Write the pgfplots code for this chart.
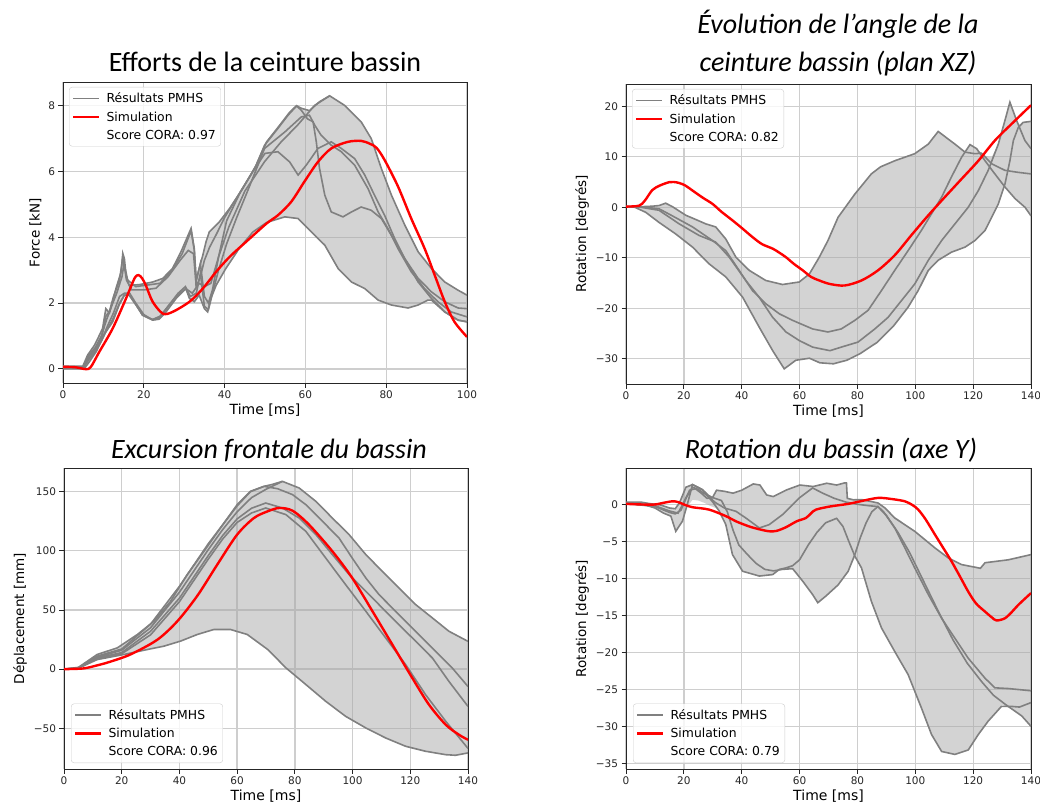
\documentclass[border=0pt]{standalone}
\usepackage{pgfplots}
\pgfplotsset{compat=1.18}
\usepackage{fontspec}
\setmainfont{DejaVu Sans}
\newfontfamily\titlefont{Carlito}
\definecolor{pmhs}{HTML}{808080}
\definecolor{band}{HTML}{A7A7A7}
\definecolor{sim}{HTML}{FF0000}
\definecolor{gridc}{HTML}{CECECE}
\pgfplotsset{
  cora/.style={
    scale only axis, anchor=south west,
    axis line style={black!85, line width=0.9pt},
    tick pos=left, tick align=outside,
    major tick length=4.5pt,
    tick style={black!85, line width=0.9pt},
    grid=major, major grid style={gridc, line width=1.3pt},
    ticklabel style={font=\fontsize{10.5}{12}\selectfont, text=black!85},
    xlabel style={font=\fontsize{14}{16}\selectfont, yshift=2pt},
    ylabel style={font=\fontsize{13.5}{16}\selectfont},
    /pgf/number format/assume math mode=true,
    xlabel={Time [ms]},
    legend image code/.code={\draw[##1] (0pt,0pt) -- (26pt,0pt);},
    legend cell align=left,
    legend style={draw=black!20, rounded corners=3pt, fill=white, fill opacity=0.8, text opacity=1,
      font=\fontsize{12.4}{14}\selectfont, inner xsep=3pt, inner ysep=3.5pt, row sep=3.5pt,
      /tikz/every odd column/.append style={column sep=4pt}},
  },
  pm/.style={pmhs, line width=1.6pt, forget plot},
  bandst/.style={fill=band, fill opacity=0.5, draw=none, forget plot},
  simu/.style={sim, line width=2.4pt, smooth, forget plot},
}
\newcommand{\corlegend}[1]{%
  \addlegendimage{pmhs, line width=1.6pt}\addlegendentry{Résultats PMHS}
  \addlegendimage{sim, line width=2.4pt}\addlegendentry{Simulation}
  \addlegendimage{empty legend}\addlegendentry{Score CORA: #1}}
\begin{document}
\begin{tikzpicture}
\useasboundingbox (0,0) rectangle (1040pt,807pt);
% ---------------- Plot 1
\begin{axis}[cora, at={(63pt,424pt)}, width=404pt, height=301pt,
  xmin=0, xmax=100, ymin=-0.43, ymax=8.72,
  xtick={0,20,40,60,80,100}, xticklabels={0,20,40,60,80,100},
  ytick={0,2,4,6,8}, yticklabels={0,2,4,6,8},
  ylabel={Force [kN]},
  legend style={at={(0,1)}, anchor=north west, xshift=6pt, yshift=-5pt}]
\addplot[bandst] coordinates {(0,0.08)(4.9,0.08)(6.1,0.42)(7.8,0.72)(9,1.02)(9.8,1.23)(10.6,1.83)(11.5,1.7)(12.3,2.04)(13.1,2.44)(14.4,2.95)(14.8,3.51)(15.2,3.35)(15.6,2.85)(16.4,2.54)(18.9,2.56)(22.2,2.64)(24.7,2.75)(27.1,3.05)(29.2,3.56)(31.7,4.27)(32.5,3.66)(32.9,2.64)(33.7,3.05)(34.6,3.45)(35.4,3.86)(36.2,4.16)(38.7,4.47)(41.2,4.87)(44.5,5.48)(47.8,6.19)(50.4,6.90)(53.6,7.40)(56.1,7.80)(57.8,8.0)(59,7.92)(61,7.85)(63.5,8.12)(66,8.30)(69.7,8.01)(73.8,7.51)(76.3,7.0)(78.8,6.09)(81.3,5.28)(84.6,4.37)(87.9,3.56)(91.2,3.05)(94.5,2.64)(97.8,2.39)(100,2.24)
(100,1.43)(97.8,1.48)(94.5,1.73)(91.2,2.09)(90.3,2.09)(87.9,1.94)(85.4,1.85)(81.3,1.94)(78,2.09)(74.7,2.44)(71.4,2.64)(68.1,3.05)(64.8,3.76)(61.5,4.16)(58.2,4.57)(54.9,4.62)(50.4,4.45)(47,4.16)(43.6,3.66)(40.3,3.05)(37.9,2.54)(36.6,2.14)(35.8,1.73)(35,1.83)(33.7,2.24)(32.5,2.04)(31.3,2.14)(30.4,2.44)(28,2.14)(25.5,1.73)(23.8,1.51)(22.2,1.48)(19.7,1.63)(18.1,1.94)(16.4,2.24)(15.2,2.24)(13.9,1.94)(12.3,1.43)(10.6,1.12)(9.4,0.82)(8.2,0.52)(6.5,0.21)(5.2,0.0)(0,0.0)};
\addplot[pm] coordinates {(0,0.08)(4.9,0.08)(6.1,0.42)(7.8,0.72)(9,1.02)(9.8,1.23)(10.6,1.83)(11.5,1.7)(12.3,2.04)(13.1,2.44)(14.4,2.95)(14.8,3.51)(15.2,3.35)(15.6,2.85)(16.4,2.54)(18.9,2.56)(22.2,2.64)(24.7,2.75)(27.1,3.05)(29.2,3.56)(31.7,4.27)(32.5,3.66)(32.9,2.64)(33.7,3.05)(34.6,3.45)(35.4,3.86)(36.2,4.16)(38.7,4.47)(41.2,4.87)(44.5,5.48)(47.8,6.19)(50.4,6.90)(53.6,7.40)(56.1,7.80)(57.8,8.0)(59,7.92)(61,7.85)(63.5,8.12)(66,8.30)(69.7,8.01)(73.8,7.51)(76.3,7.0)(78.8,6.09)(81.3,5.28)(84.6,4.37)(87.9,3.56)(91.2,3.05)(94.5,2.64)(97.8,2.39)(100,2.24)};
\addplot[pm] coordinates {(0,0.0)(5.2,0.0)(6.5,0.21)(8.2,0.52)(9.4,0.82)(10.6,1.12)(12.3,1.43)(13.9,1.94)(15.2,2.24)(16.4,2.24)(18.1,1.94)(19.7,1.63)(22.2,1.48)(23.8,1.51)(25.5,1.73)(28,2.14)(30.4,2.44)(31.3,2.14)(32.5,2.04)(33.7,2.24)(35,1.83)(35.8,1.73)(36.6,2.14)(37.9,2.54)(40.3,3.05)(43.6,3.66)(47,4.16)(50.4,4.45)(54.9,4.62)(58.2,4.57)(61.5,4.16)(64.8,3.76)(68.1,3.05)(71.4,2.64)(74.7,2.44)(78,2.09)(81.3,1.94)(85.4,1.85)(87.9,1.94)(90.3,2.09)(91.2,2.09)(94.5,1.73)(97.8,1.48)(100,1.43)};
\addplot[pm] coordinates {(0,0.05)(5,0.05)(6.3,0.4)(8,0.65)(9.5,1.0)(10.8,1.5)(12,1.9)(13.3,2.3)(14.6,2.8)(15.1,3.2)(15.7,2.7)(17,2.4)(20,2.4)(23,2.45)(26,2.8)(29,3.3)(31,3.6)(32.3,3.5)(33,2.5)(34,2.8)(35,3.3)(36.3,3.7)(38,4.1)(40,4.6)(44,5.4)(47,6.0)(50,6.55)(53.2,6.6)(56.1,6.29)(58.2,5.89)(60.2,6.19)(63.1,6.70)(66.4,6.9)(68.9,6.70)(72.2,6.39)(74.7,5.89)(77.1,5.28)(79.6,4.67)(82.1,3.96)(84.6,3.35)(87.9,2.75)(91.2,2.34)(94.5,2.04)(97.8,1.85)(100,1.83)};
\addplot[pm] coordinates {(0,0.04)(5,0.04)(6.2,0.35)(8,0.6)(9.5,0.9)(10.6,1.6)(11.5,1.75)(12.5,2.2)(14,2.7)(14.8,3.4)(15.3,3.1)(16,2.7)(18,2.5)(21,2.55)(24,2.6)(27,3.0)(29.5,3.5)(31.7,4.2)(32.5,3.6)(33,2.7)(34,3.2)(35,2.2)(36,2.0)(37,2.4)(38.5,3.4)(40.5,4.5)(44,5.4)(47.5,6.1)(49.9,6.80)(53.2,7.31)(55.7,7.71)(57.8,7.99)(59,7.86)(60.5,7.6)(61.9,7.51)(62.7,6.90)(63.5,6.09)(64.8,5.28)(66.4,4.77)(69.3,4.62)(71.4,4.77)(73.8,4.92)(76.3,4.82)(78.8,4.57)(81.3,4.06)(84.6,3.35)(87.9,2.64)(91.2,2.14)(94.5,1.73)(97.8,1.48)(100,1.43)};
\addplot[pm] coordinates {(0,0.02)(5,0.02)(6,0.25)(8,0.55)(9.5,0.85)(11,1.3)(12.5,1.7)(14,2.2)(15.2,2.3)(16.5,2.3)(18,2.0)(20,1.65)(22,1.5)(24,1.55)(26,1.9)(28.5,2.3)(30.3,2.5)(31.5,2.2)(33,2.3)(34,2.9)(35,1.9)(36,1.8)(37,2.3)(38.5,3.0)(40.5,3.8)(43,4.6)(46,5.5)(49.9,6.70)(54.9,7.2)(59,7.66)(61,7.71)(62.3,7.41)(63.9,7.10)(66.4,6.80)(68.9,6.60)(72.2,6.19)(75.5,5.48)(78,4.77)(80.4,4.27)(82.9,3.66)(86.2,2.95)(89.5,2.44)(92.8,2.04)(96.1,1.73)(100,1.58)};
\addplot[pm] coordinates {(0,0.03)(5,0.03)(6.5,0.3)(8.2,0.55)(10,1.0)(12.3,1.5)(14,2.0)(15.2,2.24)(16.4,2.24)(18.1,1.94)(19.7,1.63)(22.2,1.5)(24,1.6)(26,1.9)(28,2.2)(30.4,2.44)(32,2.3)(33.7,2.6)(35,2.5)(36.6,2.6)(38.5,3.4)(41,4.3)(45,5.4)(49.9,6.3)(54,6.9)(58,7.4)(62.3,8.01)(66,8.30)};
\addplot[simu] coordinates {(0,0.06)(3,0.05)(5.7,-0.01)(6.9,0.06)(9,0.52)(12.3,1.23)(15.6,2.14)(17.7,2.75)(18.7,2.85)(19.6,2.75)(20.5,2.54)(22.2,2.04)(24.7,1.68)(27.1,1.73)(31.3,2.04)(34.6,2.44)(37.9,2.95)(41.2,3.40)(45.3,3.86)(50.4,4.42)(53.2,4.67)(56.5,5.08)(59.8,5.70)(63.1,6.29)(66.4,6.70)(70.5,6.90)(73.8,6.93)(76,6.84)(77.6,6.72)(79.6,6.35)(82.9,5.55)(86.2,4.57)(89.5,3.66)(92,2.85)(94.5,2.04)(96.9,1.43)(100,0.97)};
\corlegend{0.97}
\end{axis}
% ---------------- Plot 2
\begin{axis}[cora, at={(626pt,423pt)}, width=405pt, height=300pt,
  xmin=0, xmax=140, ymin=-35, ymax=24.4,
  xtick={0,20,40,60,80,100,120,140}, xticklabels={0,20,40,60,80,100,120,140},
  ytick={-30,-20,-10,0,10,20}, yticklabels={−30,−20,−10,0,10,20},
  ylabel={Rotation [degrés]},
  legend style={at={(0,1)}, anchor=north west, xshift=6pt, yshift=-5pt}]
\addplot[bandst] coordinates {(0,0.13)(5,0.1)(9,0.2)(11.4,0.33)(13.7,0.8)(16,0.13)(20.7,-1.6)(24,-2.4)(27.6,-3.3)(31,-3.9)(34.5,-6.3)(38,-9.9)(42.6,-12.5)(48.3,-14.5)(54.1,-15.3)(59.9,-14.8)(63.4,-13.2)(66.8,-9.9)(69.8,-6.6)(73.3,-2.0)(79.1,2.6)(84.8,6.6)(88,8.0)(92.9,9.2)(99.8,10.6)(104.5,12.5)(107.9,15.0)(113.7,12.5)(117.2,10.9)(118.9,12.4)(121.2,11.6)(122.9,10.7)(124.5,10.1)(126.4,9.9)(128.7,12.5)(131,17.2)(132.7,20.8)(135,17.2)(136,16.4)(137.3,16.8)(140,17.0)
(140,-1.7)(137.9,0.0)(134.5,1.7)(130.8,4.2)(128.7,0.66)(126.4,-2.0)(124.1,-4.6)(120.6,-6.6)(117.2,-7.9)(112.5,-8.9)(107.9,-10.5)(104.5,-12.5)(101,-16.5)(97.5,-19.8)(92.5,-23.5)(86.7,-26.8)(80.9,-29.0)(76.3,-30.3)(71.7,-31.0)(67,-30.8)(63.4,-29.9)(58.7,-30.3)(54.7,-32.0)(50.7,-28.4)(46,-23.7)(40.3,-17.8)(34.5,-13.8)(28.7,-11.2)(23,-7.9)(17.2,-5.3)(11.4,-3.0)(6.8,-1.0)(3,0.0)(0,0.13)};
\addplot[pm] coordinates {(0,0.13)(5,0.1)(9,0.2)(11.4,0.33)(13.7,0.8)(16,0.13)(20.7,-1.6)(24,-2.4)(27.6,-3.3)(31,-3.9)(34.5,-6.3)(38,-9.9)(42.6,-12.5)(48.3,-14.5)(54.1,-15.3)(59.9,-14.8)(63.4,-13.2)(66.8,-9.9)(69.8,-6.6)(73.3,-2.0)(79.1,2.6)(84.8,6.6)(88,8.0)(92.9,9.2)(99.8,10.6)(104.5,12.5)(107.9,15.0)(113.7,12.5)(117.2,10.9)(120.6,10.6)(122.9,10.7)(126.4,8.6)(131,7.3)(135.6,6.9)(140,6.6)};
\addplot[pm] coordinates {(0,0.13)(5,0.1)(11.4,-0.3)(16,-1.7)(23,-3.9)(29.9,-6.6)(34.5,-8.6)(39.1,-12.5)(43.7,-16.5)(48.3,-19.1)(53,-21.1)(57.6,-22.4)(64.5,-24.1)(69.8,-24.7)(74.4,-24.1)(79.1,-22.4)(83.7,-20.4)(88.3,-16.5)(92.9,-12.5)(97.5,-8.6)(102.1,-4.6)(105.6,-1.3)(109.1,2.0)(112.5,6.0)(116,9.9)(118.9,12.4)(121.2,11.6)(124.1,9.2)(127.5,6.6)(131,4.0)(134.5,1.7)(137.9,0.0)(140,-1.7)};
\addplot[pm] coordinates {(0,0.13)(5,0.0)(11.4,-0.6)(18.4,-3.3)(25.3,-5.6)(31,-6.9)(35.7,-9.9)(41.4,-14.5)(46,-17.8)(50.7,-21.8)(55.3,-24.7)(59.9,-26.4)(64.5,-27.7)(70.5,-28.4)(74.4,-27.7)(80.2,-26.7)(86,-24.1)(90.6,-21.8)(95.2,-18.5)(99.8,-15.2)(104.5,-10.5)(109.1,-6.6)(113.7,-3.3)(118.3,0.0)(121.8,3.3)(125.2,7.3)(128.7,12.5)(131,17.2)(132.7,20.8)(135,17.2)(137.9,13.2)(140,11.6)};
\addplot[pm] coordinates {(0,0.13)(3,0.0)(6.8,-1.0)(11.4,-3.0)(17.2,-5.3)(23,-7.9)(28.7,-11.2)(34.5,-13.8)(40.3,-17.8)(46,-23.7)(50.7,-28.4)(54.7,-32.0)(58.7,-30.3)(63.4,-29.9)(67,-30.8)(71.7,-31.0)(76.3,-30.3)(80.9,-29.0)(86.7,-26.8)(92.5,-23.5)(97.5,-19.8)(101,-16.5)(104.5,-12.5)(107.9,-10.5)(112.5,-8.9)(117.2,-7.9)(120.6,-6.6)(124.1,-4.6)(126.4,-2.0)(128.7,0.66)(131,4.6)(132.7,9.2)(133.9,13.2)(135.6,15.8)(137.3,16.8)(140,17.0)};
\addplot[simu] coordinates {(0,0.13)(4.5,0.3)(6.5,1.3)(9.1,3.4)(11.7,4.3)(14.9,4.96)(16.5,5.0)(18.4,4.8)(20.5,4.3)(23,3.3)(26.5,1.9)(29.9,0.66)(33,-0.9)(36.8,-2.6)(40,-4.1)(43.7,-5.9)(47,-7.3)(50.7,-8.2)(53,-9.0)(55.3,-9.9)(58,-11.2)(61.1,-12.5)(64,-13.8)(66.8,-14.5)(70.5,-15.2)(75.6,-15.5)(81.4,-14.5)(87.1,-12.5)(92.9,-9.5)(98.7,-5.5)(104.5,-1.6)(110.2,2.0)(116,5.6)(121.8,9.2)(127.5,13.2)(133.3,16.5)(140,20.2)};
\corlegend{0.82}
\end{axis}
% ---------------- Plot 3
\begin{axis}[cora, at={(64pt,38pt)}, width=404pt, height=301pt,
  xmin=0, xmax=140, ymin=-84.4, ymax=170,
  xtick={0,20,40,60,80,100,120,140}, xticklabels={0,20,40,60,80,100,120,140},
  ytick={-50,0,50,100,150}, yticklabels={−50,0,50,100,150},
  ylabel={Déplacement [mm]},
  legend style={at={(0,0)}, anchor=south west, xshift=7pt, yshift=6pt}]
\addplot[bandst] coordinates {(0,0)(5,1.5)(11.5,12.4)(18.5,18)(25.4,29.2)(31.2,40.6)(36.9,57.3)(42.7,79.9)(48.5,99.6)(54.2,119.3)(60,139)(64.6,150.3)(69.3,154.5)(72,156)(75.7,158.7)(81.5,153.1)(87.3,141.8)(93,127.7)(98.8,113.7)(104.6,96.8)(110.3,82.7)(116.1,68.6)(121.9,54.5)(127.7,43.2)(133.4,32)(140,23.5)
(140,-70.8)(135.7,-72.8)(132.3,-72.3)(125.3,-69.4)(118.4,-65.2)(111.5,-58.2)(104.6,-49.7)(97.6,-39.9)(90.7,-27.2)(83.8,-13)(76.9,1.1)(70.6,16.6)(63.5,29.3)(57.7,33.5)(51.9,33.5)(46.2,29.3)(40.4,23.7)(34.6,19.4)(28.9,16.6)(20.8,12.4)(11.5,8.1)(5,0.8)(0,0)};
\addplot[pm] coordinates {(0,0)(5,1.5)(11.5,12.4)(18.5,18)(25.4,29.2)(31.2,40.6)(36.9,57.3)(42.7,79.9)(48.5,99.6)(54.2,119.3)(60,139)(64.6,150.3)(69.3,154.5)(72,156)(75.7,158.7)(81.5,153.1)(87.3,141.8)(93,127.7)(98.8,113.7)(104.6,96.8)(110.3,82.7)(116.1,68.6)(121.9,54.5)(127.7,43.2)(133.4,32)(140,23.5)};
\addplot[pm] coordinates {(0,0)(5,0.8)(11.5,8.1)(20.8,12.4)(28.9,16.6)(34.6,19.4)(40.4,23.7)(46.2,29.3)(51.9,33.5)(57.7,33.5)(63.5,29.3)(70.6,16.6)(76.9,1.1)(83.8,-13)(90.7,-27.2)(97.6,-39.9)(104.6,-49.7)(111.5,-58.2)(118.4,-65.2)(125.3,-69.4)(132.3,-72.3)(135.7,-72.8)(140,-70.8)};
\addplot[pm] coordinates {(0,0)(5,1)(11.5,10)(20,16)(30,35)(40,65)(50,101)(55,118)(60,133)(65,145)(70,152)(75.7,158.7)};
\addplot[pm] coordinates {(0,0)(5,1.2)(11.5,11)(20,17)(30,38)(40,70)(50,106)(55,122)(60,138)(64.6,150)(69.3,154.5)(74,152.5)(79.2,147.5)(83.8,139)(89.6,124.9)(95.3,110.8)(99.9,93.8)(104.6,77)(109.2,62.9)(116.1,46)(121.9,31.8)(127.7,17.7)(134.6,0.8)(140,-14.7)};
\addplot[pm] coordinates {(0,0)(5,1)(11.5,9.5)(20,14)(30,32)(40,60)(50,96)(55,113)(60,127)(65,136)(69.9,140.4)(75.7,136.2)(81.5,127.7)(87.3,113.7)(93,96.8)(98.8,79.9)(104.6,65.8)(110.3,51.7)(116.1,37.5)(121.9,23.5)(127.7,9.3)(133.4,-10.4)(140,-31.5)};
\addplot[pm] coordinates {(0,0)(5,0.9)(11.5,9)(20,13)(30,29)(40,57)(50,93)(55,110)(60,124)(65,132)(69.9,136.2)(76.9,130.6)(83.8,116.5)(90.7,93.9)(97.6,71.4)(104.6,48.9)(111.5,26.3)(118.4,3.8)(125.3,-21.6)(132.3,-44.1)(140,-67)};
\addplot[simu] coordinates {(0,0)(6.7,0.6)(11.5,3.2)(15.9,6.2)(23.1,12.5)(32.3,24.8)(39.2,40.3)(46.2,62)(53.1,88.3)(60,113.7)(65.8,127.7)(70.6,133.4)(74.6,136.2)(79.2,133.9)(84.9,122.1)(93,99.6)(99.9,77)(106.9,48.9)(113.8,20.7)(120.7,-7.5)(126.5,-30.1)(132.3,-47)(136.9,-55.5)(140,-59.7)};
\corlegend{0.96}
\end{axis}
% ---------------- Plot 4
\begin{axis}[cora, at={(626pt,38pt)}, width=405pt, height=301pt,
  xmin=0, xmax=140, ymin=-35.77, ymax=4.9,
  xtick={0,20,40,60,80,100,120,140}, xticklabels={0,20,40,60,80,100,120,140},
  ytick={-35,-30,-25,-20,-15,-10,-5,0}, yticklabels={−35,−30,−25,−20,−15,−10,−5,0},
  ylabel={Rotation [degrés]},
  legend style={at={(0,0)}, anchor=south west, xshift=7pt, yshift=6pt}]
\addplot[bandst] coordinates {(0,0.3)(5,0.3)(8,0.1)(12,-0.1)(15,-0.5)(17,-0.6)(18.5,0.2)(20.7,2.3)(23,2.66)(26.4,1.98)(28.5,1.2)(29.9,0.9)(31.3,1.9)(34,1.75)(37,1.5)(40,1.9)(44,2.75)(46.3,2.6)(48.6,1.26)(50.9,1.04)(55.5,1.94)(60.1,2.6)(64.7,2.4)(69.4,2.84)(72.8,2.6)(75.7,2.9)(76.2,2.9)(76.5,0.8)(78.6,0.6)(81.4,0.63)(87.1,0.18)(89.5,-0.5)(92.9,-1.85)(99.8,-3.65)(106.8,-5.9)(111.4,-7.25)(116,-8.15)(120.6,-8.5)(122.5,-8.65)(124.1,-7.9)(132.2,-7.5)(140,-6.8)
(140,-30.0)(136.8,-28.6)(133,-27.6)(130,-27.1)(128,-28.0)(125.2,-29.3)(121.8,-31.1)(118.3,-33.2)(113.7,-33.8)(109.1,-33.4)(105.6,-31.1)(102.1,-27.5)(97.5,-23.0)(92.9,-19.9)(88.3,-16.7)(84.8,-13.1)(81.4,-8.6)(79.1,-7.2)(76.8,-9.05)(73.3,-10.9)(69.1,-12.4)(66.3,-13.3)(64.5,-12.2)(61.1,-10.4)(57.6,-8.7)(55.3,-8.6)(53,-8.8)(50.7,-9.5)(46.1,-9.7)(40.3,-9.05)(36.8,-6.8)(34.5,-2.75)(32.2,-0.9)(31,-0.5)(29,-0.2)(27,0.2)(25,0.5)(23,0.6)(21.2,-0.3)(19.5,-2.3)(17.2,-3.65)(15.5,-1.6)(13,-1.2)(10,-0.5)(5,0.0)(0,0.0)};
\addplot[pm] coordinates {(0,0.3)(5,0.3)(8,0.1)(12,-0.1)(15,-0.5)(17,-0.6)(18.5,0.2)(20.7,2.3)(23,2.66)(26.4,1.98)(28.5,1.2)(29.9,0.9)(31.3,1.9)(34,1.75)(37,1.5)(40,1.9)(44,2.75)(46.3,2.6)(48.6,1.26)(50.9,1.04)(55.5,1.94)(60.1,2.6)(64.7,2.4)(69.4,2.84)(72.8,2.6)(75.7,2.9)(76.2,2.9)(76.5,0.8)(78.6,0.6)(81.4,0.63)(87.1,0.18)(89.5,-0.5)(92.9,-1.85)(99.8,-3.65)(106.8,-5.9)(111.4,-7.25)(116,-8.15)(120.6,-8.5)(122.5,-8.65)(124.1,-7.9)(132.2,-7.5)(140,-6.8)};
\addplot[pm] coordinates {(0,0.1)(5,0.1)(10,-0.5)(13,-1.2)(15.5,-1.6)(17.2,-3.65)(19.5,-2.3)(21.2,0)(23,2.66)(26.4,1.98)(28,1.2)(30,0.3)(32.2,-0.9)(34.5,-2.75)(36.8,-6.8)(40.3,-9.05)(46.1,-9.7)(50.7,-9.5)(53,-8.8)(55.3,-8.6)(57.6,-8.3)(60,-7.5)(63,-5.5)(66,-3.8)(69,-2.5)(72.8,-1.9)(75,-3.0)(77,-5.0)(79.1,-7.0)(81.4,-8.6)(84.8,-13.1)(88.3,-16.7)(92.9,-19.9)(97.5,-23.0)(102.1,-27.5)(105.6,-31.1)(109.1,-33.4)(113.7,-33.8)(118.3,-33.2)(121.8,-31.1)(125.2,-29.3)(129.8,-27.3)(133,-27.3)(136,-27.4)(140,-26.8)};
\addplot[pm] coordinates {(0,0.1)(10,-0.2)(15,-0.9)(18,-1.2)(20,0.3)(22,1.9)(24,2.1)(26,1.5)(28,0.8)(30,0.9)(33,0.5)(35,-1.0)(37,-3.5)(39,-5.5)(42,-6.8)(45,-8.0)(48,-8.8)(51,-9.0)(54,-8.8)(57.6,-8.7)(61.1,-10.4)(64.5,-12.2)(66.3,-13.3)(69.1,-12.4)(73.3,-10.9)(76.8,-9.05)(79.1,-6.8)(81,-4.5)(83,-2.5)(85,-1.0)(87.1,-0.3)(89,-1.0)(92.9,-3.2)(96.4,-5.9)(99.8,-8.6)(104.5,-12.2)(109.1,-15.4)(113.7,-18.1)(118.3,-20.8)(124.1,-23.5)(127.5,-24.8)(132.2,-24.9)(140,-25.2)};
\addplot[pm] coordinates {(0,0.1)(10,-0.3)(15,-1.1)(17,-1.3)(19,-0.8)(21,1.0)(23,2.3)(25,2.0)(28,1.2)(31,0.2)(34,-0.5)(38,-0.95)(41.4,-1.85)(46.1,-3.2)(49.5,-2.75)(54.1,-1.4)(59.9,0.86)(64.5,2.2)(68,1.5)(72,0.8)(76,0.3)(80,0.0)(84,-0.2)(87,-0.3)(90,-1.5)(94,-3.8)(98,-6.5)(103,-10.5)(108,-14.5)(113,-18.3)(118,-21.5)(123,-24.0)(127,-25.8)(131,-27.0)(136.8,-28.6)(140,-30.0)};
\addplot[simu] coordinates {(0,0.05)(9.1,-0.05)(13,0.2)(16,0.4)(18,0.3)(20.5,-0.1)(23,-0.4)(28.7,-0.72)(34.5,-1.6)(38,-2.3)(42.6,-3.0)(46.3,-3.4)(49.5,-3.65)(52,-3.6)(55.3,-3.1)(59,-2.3)(62.2,-1.85)(64,-1.2)(65.7,-0.72)(70.5,-0.3)(76.8,0.05)(81,0.4)(87.1,0.86)(92,0.7)(96.4,0.4)(99,-0.1)(101,-0.72)(103.5,-2.0)(106.8,-4.1)(109.5,-5.8)(112.5,-7.7)(115.5,-9.8)(118.3,-11.8)(121,-13.4)(124.1,-14.5)(126.5,-15.3)(128.1,-15.7)(131,-15.4)(133.5,-14.5)(135.6,-13.6)(140,-12.0)};
\corlegend{0.79}
\end{axis}
% ---------------- Titles
\node[font=\titlefont\fontsize{28}{34}\selectfont] at (265pt,745pt) {Efforts de la ceinture bassin};
\node[font=\titlefont\itshape\fontsize{28}{38}\selectfont, align=center] at (838pt,764pt) {Évolution de l’angle de la\\ceinture bassin (plan XZ)};
\node[font=\titlefont\itshape\fontsize{28}{34}\selectfont] at (269pt,357pt) {Excursion frontale du bassin};
\node[font=\titlefont\itshape\fontsize{28}{34}\selectfont] at (831pt,357pt) {Rotation du bassin (axe Y)};
\end{tikzpicture}
\end{document}
